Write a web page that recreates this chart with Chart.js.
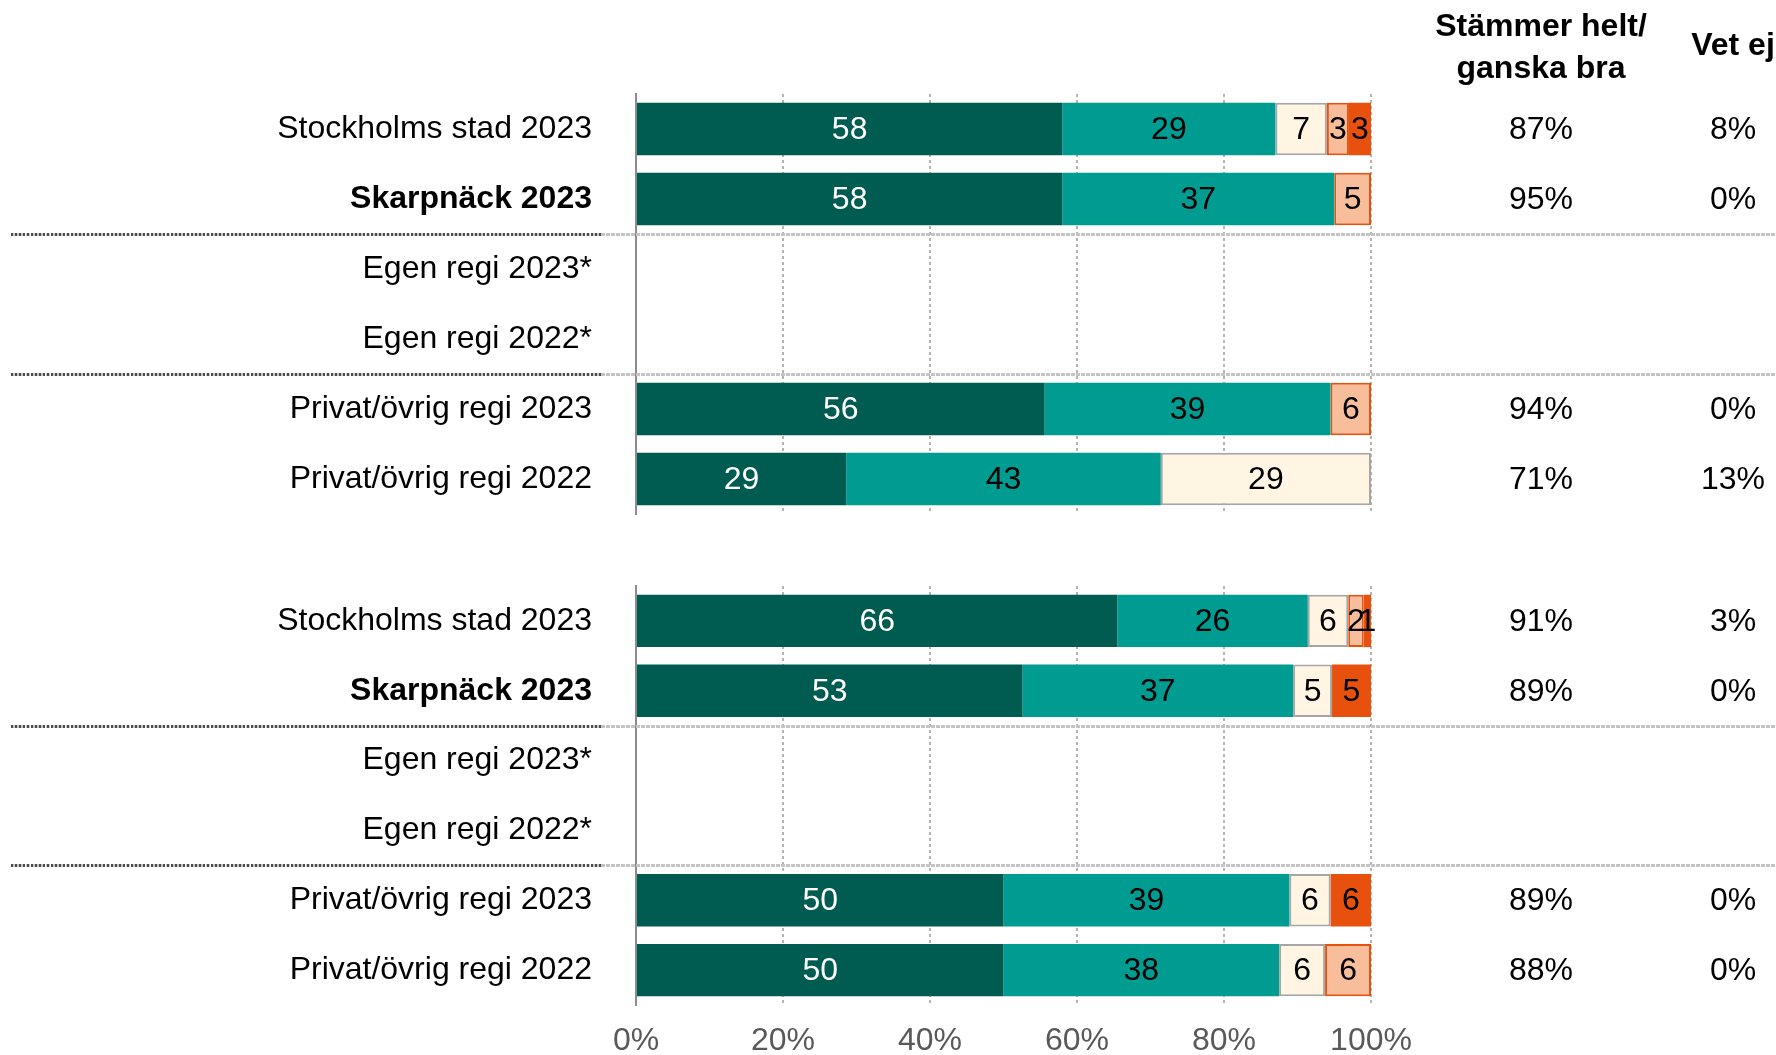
<!DOCTYPE html>
<html>
<head>
<meta charset="utf-8">
<script src="https://cdn.jsdelivr.net/npm/chart.js@4.4.1/dist/chart.umd.min.js"></script>
<style>
    body { margin: 0; background: #fff; }
    #wrap { position: relative; width: 1776px; height: 1055px; }
    #wrap canvas { position: absolute; left: 0; top: 0; }
</style>
</head>
<body>
<div id="wrap">
    <canvas id="chartTop" width="1776" height="1055"></canvas>
    <canvas id="chartBottom" width="1776" height="1055"></canvas>
</div>
<script>
const FONT = '"Liberation Sans", Arial, sans-serif';
const SIZE = 32;

const labels = ['Stockholms stad 2023', 'Skarpnäck 2023', 'Egen regi 2023*', 'Egen regi 2022*', 'Privat/övrig regi 2023', 'Privat/övrig regi 2022'];
const xTicks = [0, 20, 40, 60, 80, 100];

// övre blocket
const helt1 = [58, 58, null, null, 55.6, 28.6];
const ganska1 = [29, 37, null, null, 38.9, 42.8];
const varken1 = [7, 0, null, null, 0, 28.6];
const daligt1 = [3, 5, null, null, 5.5, 0];
const heltDaligt1 = [3, 0, null, null, 0, 0];
const bra1 = ['87%', '95%', '', '', '94%', '71%'];
const vetEj1 = ['8%', '0%', '', '', '0%', '13%'];

// nedre blocket
const helt2 = [65.5, 52.6, null, null, 50, 50];
const ganska2 = [25.9, 36.8, null, null, 38.9, 37.5];
const varken2 = [5.5, 5.3, null, null, 5.6, 6.25];
const daligt2 = [2.1, 0, null, null, 0, 6.25];
const heltDaligt2 = [1.0, 5.3, null, null, 5.5, 0];
const bra2 = ['91%', '89%', '', '', '89%', '88%'];
const vetEj2 = ['3%', '0%', '', '', '0%', '0%'];

const colHeader1 = ['Stämmer helt/', 'ganska bra'];
const colHeader2 = 'Vet ej';

const COL_BRA = 1541, COL_VET = 1733;

// --- siffror inne i staplarna ---
const barText = {
    id: 'barText',
    afterDatasetsDraw(chart) {
        const ctx = chart.ctx;
        ctx.save();
        ctx.font = SIZE + 'px ' + FONT;
        ctx.textAlign = 'center';
        ctx.textBaseline = 'middle';
        chart.data.datasets.forEach((ds, i) => {
            chart.getDatasetMeta(i).data.forEach((bar, j) => {
                const v = ds.data[j];
                if (!v) return;
                ctx.fillStyle = i === 0 ? '#ffffff' : '#000000';
                ctx.fillText(Math.round(v), (bar.x + bar.base) / 2, bar.y + 1);
            });
        });
        ctx.restore();
    }
};

// --- kolumnerna till höger + avdelare mellan grupperna ---
const sideCols = {
    id: 'sideCols',
    afterDraw(chart, args, opts) {
        const ctx = chart.ctx;
        const y = chart.scales.y;
        ctx.save();
        ctx.font = SIZE + 'px ' + FONT;
        ctx.fillStyle = '#000';
        ctx.textAlign = 'center';
        ctx.textBaseline = 'middle';
        opts.bra.forEach((t, i) => {
            if (!t) return;
            const py = y.getPixelForValue(i) + 1;
            ctx.fillText(t, COL_BRA, py);
            ctx.fillText(opts.vetEj[i], COL_VET, py);
        });

        [[1, 2], [3, 4]].forEach(([a, b]) => {
            const py = Math.round((y.getPixelForValue(a) + y.getPixelForValue(b)) / 2) + 0.5;
            ctx.lineWidth = 3;
            ctx.strokeStyle = '#c4c4c4';
            ctx.setLineDash([4, 1]);
            ctx.beginPath(); ctx.moveTo(11, py); ctx.lineTo(1776, py); ctx.stroke();
            ctx.strokeStyle = '#4d4d4d';
            ctx.setLineDash([2, 2]);
            ctx.beginPath(); ctx.moveTo(11, py); ctx.lineTo(602, py); ctx.stroke();
        });
        ctx.setLineDash([]);

        if (opts.header) {
            ctx.font = 'bold ' + SIZE + 'px ' + FONT;
            ctx.fillText(colHeader1[0], COL_BRA, 27);
            ctx.fillText(colHeader1[1], COL_BRA, 69);
            ctx.fillText(colHeader2, COL_VET, 46);
        }
        ctx.restore();
    }
};

function makeChart(id, data, cols, area) {
    const series = [
        { label: 'Stämmer helt', data: data[0], backgroundColor: '#005C50', borderWidth: 0 },
        { label: 'Stämmer ganska bra', data: data[1], backgroundColor: '#009B91', borderWidth: 0 },
        { label: 'Stämmer ganska dåligt', data: data[2], backgroundColor: '#FFF5E2', borderColor: '#A6A6A6', borderWidth: 2 },
        { label: 'Stämmer dåligt', data: data[3], backgroundColor: '#F8BE9C', borderColor: '#E8500E', borderWidth: 2 },
        { label: 'Stämmer inte alls', data: data[4], backgroundColor: '#E8500E', borderWidth: 0 }
    ];
    series.forEach(s => { s.borderSkipped = false; s.barPercentage = 0.75; s.categoryPercentage = 1; });

    return new Chart(document.getElementById(id), {
        type: 'bar',
        data: { labels: labels, datasets: series },
        options: {
            indexAxis: 'y',
            responsive: false,
            animation: false,
            devicePixelRatio: 1,
            layout: { padding: { left: 0, right: 405, top: area.top, bottom: area.bottom } },
            plugins: {
                legend: { display: false },
                tooltip: { enabled: false },
                sideCols: cols
            },
            scales: {
                x: {
                    stacked: true,
                    min: 0,
                    max: 100,
                    afterBuildTicks: s => { s.ticks = xTicks.map(v => ({ value: v })); },
                    afterFit: s => { s.height = area.axisHeight; },
                    grid: {
                        color: c => c.index === 0 ? 'rgba(0,0,0,0)' : '#b4b4b4',
                        lineWidth: 2,
                        drawTicks: false
                    },
                    border: { display: false, dash: [3, 3] },
                    ticks: {
                        display: area.showTicks,
                        padding: 17,
                        color: '#595959',
                        font: { size: SIZE, family: FONT },
                        callback: v => v + '%'
                    }
                },
                y: {
                    stacked: true,
                    // fast bredd för etiketterna, ingen extra luft upptill/nedtill
                    afterFit: s => { s.width = 636; s.paddingTop = 0; s.paddingBottom = 0; },
                    grid: { display: false, drawTicks: false },
                    border: { display: true, color: '#8c8c8c', width: 2 },
                    ticks: {
                        padding: 44,
                        color: '#000',
                        autoSkip: false,
                        font: c => ({ size: SIZE, family: FONT, weight: c.index === 1 ? 'bold' : 'normal' })
                    }
                }
            }
        },
        plugins: [barText, sideCols]
    });
}

Chart.defaults.font.family = FONT;

makeChart('chartTop',
    [helt1, ganska1, varken1, daligt1, heltDaligt1],
    { bra: bra1, vetEj: vetEj1, header: true },
    { top: 94, bottom: 541, axisHeight: 0, showTicks: false });

makeChart('chartBottom',
    [helt2, ganska2, varken2, daligt2, heltDaligt2],
    { bra: bra2, vetEj: vetEj2, header: false },
    { top: 586, bottom: 0, axisHeight: 50, showTicks: true });
</script>
</body>
</html>
